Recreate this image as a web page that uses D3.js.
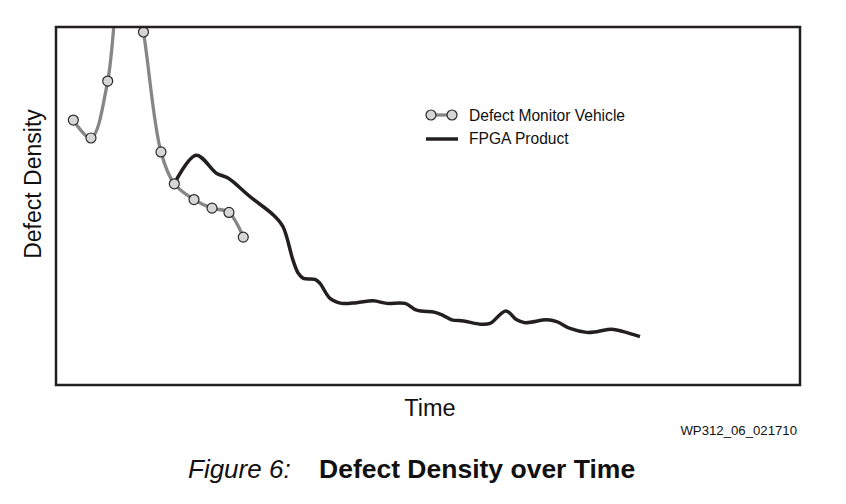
<!DOCTYPE html>
<html>
<head>
<meta charset="utf-8">
<script src="https://cdn.jsdelivr.net/npm/d3@7"></script>
<style>
  body { margin: 0; background: #fff; }
  text { font-family: Arial, "Liberation Sans", Helvetica, sans-serif; fill: #111; }
</style>
</head>
<body>
<div id="viz"></div>
<script>
// time in arbitrary units (0-100), density in arbitrary units (0-100 fills the box)
const monitorTime    = [2.33, 4.70, 6.95, 9.27, 11.76, 14.11, 15.90, 18.55, 20.97, 23.25, 25.17];
const monitorDensity = [74.0, 69.0, 84.9, 129.9, 98.6, 65.1, 56.2, 51.8, 49.4, 48.2, 41.3];

const productTime = [15.90, 18.82, 21.60, 23.12, 26.08, 29.21, 30.51, 31.85, 32.57, 33.24,
  34.81, 35.48, 36.83, 38.40, 40.42, 42.65, 44.45, 46.91, 48.48, 50.94, 52.06, 53.19,
  54.75, 56.99, 58.33, 60.48, 61.92, 63.04, 65.95, 67.30, 69.09, 71.33, 72.67, 74.69,
  76.25, 78.49];
const productDensity = [56.2, 64.2, 59.1, 57.8, 52.6, 47.5, 44.2, 34.9, 31.2, 29.8,
  29.5, 28.4, 24.2, 22.8, 23.0, 23.5, 22.8, 22.8, 20.9, 20.3, 19.4, 18.2,
  17.9, 17.0, 17.2, 20.7, 18.2, 17.4, 18.2, 17.7, 15.8, 14.7, 14.9, 15.6,
  14.9, 13.5];

const seriesNames = ["Defect Monitor Vehicle", "FPGA Product"];

const margin = {top: 27, right: 46, bottom: 119, left: 56};
const W = 846, H = 504;
const width = W - margin.left - margin.right;
const height = H - margin.top - margin.bottom;

const svg = d3.select("#viz")
  .append("svg")
    .attr("width", W)
    .attr("height", H);

const g = svg.append("g")
  .attr("transform", `translate(${margin.left},${margin.top})`);

const x = d3.scaleLinear().domain([0, 100]).range([0, width]);
const y = d3.scaleLinear().domain([0, 100]).range([height, 0]);

g.append("clipPath")
  .attr("id", "plot-clip")
  .append("rect")
    .attr("width", width)
    .attr("height", height);

const plot = g.append("g").attr("clip-path", "url(#plot-clip)");

const monitorData = monitorTime.map((t, i) => ({t, v: monitorDensity[i]}));
const productData = productTime.map((t, i) => ({t, v: productDensity[i]}));

const line = d3.line()
  .x(d => x(d.t))
  .y(d => y(d.v))
  .curve(d3.curveCatmullRom.alpha(0.5));

plot.append("path")
  .datum(monitorData)
  .attr("fill", "none")
  .attr("stroke", "#868686")
  .attr("stroke-width", 3.3)
  .attr("d", line);

plot.append("path")
  .datum(productData)
  .attr("fill", "none")
  .attr("stroke", "#231f20")
  .attr("stroke-width", 3.5)
  .attr("stroke-linejoin", "round")
  .attr("d", line);

plot.selectAll(".dot")
  .data(monitorData.filter(d => d.v <= 100))
  .join("circle")
    .attr("class", "dot")
    .attr("cx", d => x(d.t))
    .attr("cy", d => y(d.v))
    .attr("r", 5)
    .attr("fill", "#d6d6d6")
    .attr("stroke", "#2a2a2a")
    .attr("stroke-width", 1.2);

// frame
g.append("rect")
  .attr("width", width)
  .attr("height", height)
  .attr("fill", "none")
  .attr("stroke", "#231f20")
  .attr("stroke-width", 2.5);

// legend
const legend = svg.append("g").attr("transform", "translate(426,115)");

legend.append("line")
  .attr("x1", 5).attr("x2", 26)
  .attr("y1", 0).attr("y2", 0)
  .attr("stroke", "#868686")
  .attr("stroke-width", 3.3);

[5, 26].forEach(cx => {
  legend.append("circle")
    .attr("cx", cx).attr("cy", 0).attr("r", 5)
    .attr("fill", "#d6d6d6")
    .attr("stroke", "#2a2a2a")
    .attr("stroke-width", 1.2);
});

legend.append("line")
  .attr("x1", 0).attr("x2", 32)
  .attr("y1", 24).attr("y2", 24)
  .attr("stroke", "#231f20")
  .attr("stroke-width", 3.5);

seriesNames.forEach((name, i) => {
  legend.append("text")
    .attr("x", 43)
    .attr("y", i * 23 + 6)
    .style("font-size", "15.6px")
    .text(name);
});

// axis labels
svg.append("text")
  .attr("transform", "translate(41,184) rotate(-90)")
  .attr("text-anchor", "middle")
  .style("font-size", "23px")
  .text("Defect Density");

svg.append("text")
  .attr("x", 430)
  .attr("y", 416)
  .attr("text-anchor", "middle")
  .style("font-size", "23.5px")
  .text("Time");

svg.append("text")
  .attr("x", 797)
  .attr("y", 435)
  .attr("text-anchor", "end")
  .style("font-size", "13.2px")
  .text("WP312_06_021710");

const caption = svg.append("text")
  .attr("x", 188)
  .attr("y", 478);

caption.append("tspan")
  .style("font-style", "italic")
  .style("font-size", "26px")
  .text("Figure 6:");

caption.append("tspan")
  .attr("x", 319)
  .style("font-weight", "bold")
  .style("font-size", "26.5px")
  .text("Defect Density over Time");
</script>
</body>
</html>
